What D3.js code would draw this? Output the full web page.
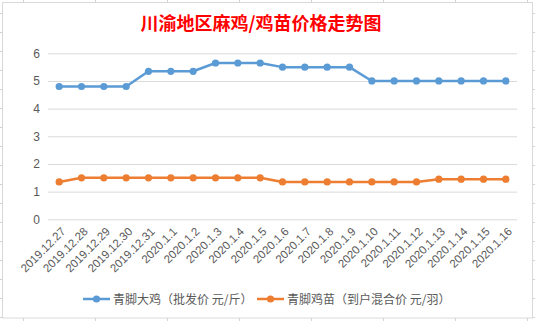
<!DOCTYPE html>
<html><head><meta charset="utf-8">
<script src="https://cdn.jsdelivr.net/npm/d3@7"></script>
<style>body{margin:0;background:#fff;}svg{display:block;}</style>
</head><body>
<script>
const categories = ["2019.12.27","2019.12.28","2019.12.29","2019.12.30","2019.12.31","2020.1.1","2020.1.2","2020.1.3","2020.1.4","2020.1.5","2020.1.6","2020.1.7","2020.1.8","2020.1.9","2020.1.10","2020.1.11","2020.1.12","2020.1.13","2020.1.14","2020.1.15","2020.1.16"];
const chickenPrice = [4.8,4.8,4.8,4.8,5.35,5.35,5.35,5.65,5.65,5.65,5.5,5.5,5.5,5.5,5.0,5.0,5.0,5.0,5.0,5.0,5.0];
const chickPrice = [1.35,1.5,1.5,1.5,1.5,1.5,1.5,1.5,1.5,1.5,1.35,1.35,1.35,1.35,1.35,1.35,1.35,1.45,1.45,1.45,1.45];
const seriesNames = ["青脚大鸡（批发价 元/斤）","青脚鸡苗（到户混合价 元/羽）"];
const yTicks = [0,1,2,3,4,5,6];
const title = "川渝地区麻鸡/鸡苗价格走势图";

const W = 535, H = 321;
const svg = d3.select("body").append("svg").attr("width", W).attr("height", H);
const font = "'Liberation Sans','Noto Sans CJK SC',sans-serif";
const cjk = "'Noto Sans CJK SC',sans-serif";

// spreadsheet cell grid peeking around the chart
const cellG = svg.append("g").attr("stroke", "#d4d4d4").attr("stroke-width", 1);
for (let x = 23.5; x < W; x += 72) {
  cellG.append("line").attr("x1", x).attr("x2", x).attr("y1", 0).attr("y2", 3);
  cellG.append("line").attr("x1", x).attr("x2", x).attr("y1", 318).attr("y2", H);
}
for (let y = 13.5; y < H; y += 19) {
  cellG.append("line").attr("x1", 0).attr("x2", 3).attr("y1", y).attr("y2", y);
  cellG.append("line").attr("x1", 532).attr("x2", W).attr("y1", y).attr("y2", y);
}
// chart frame
svg.append("rect").attr("x", 2.5).attr("y", 2.5).attr("width", 530).attr("height", 315.5)
  .attr("fill", "#fff").attr("stroke", "#d9d9d9").attr("stroke-width", 1);

// title
svg.append("text").attr("x", 261).attr("y", 30).attr("text-anchor", "middle")
  .attr("font-family", cjk).attr("font-size", 18).attr("font-weight", "bold")
  .attr("fill", "#ff0000").text(title);

const x = d3.scaleBand().domain(categories).range([48, 517]);
const y = d3.scaleLinear().domain([0, 6]).range([219.3, 53.3]);

// gridlines
const yAxis = d3.axisLeft(y).tickValues(yTicks).tickFormat(d3.format("d")).tickSize(-(517 - 48)).tickPadding(8);
const gy = svg.append("g").attr("transform", "translate(48,0)").call(yAxis);
gy.select(".domain").remove();
gy.selectAll(".tick line").attr("stroke", "#d9d9d9").attr("stroke-width", 1);
gy.selectAll(".tick text").attr("font-family", font).attr("font-size", 12).attr("fill", "#595959");

// x labels
const xAxis = d3.axisBottom(x).tickSize(0).tickPadding(0);
const gx = svg.append("g").attr("transform", "translate(0,219.3)").call(xAxis);
gx.select(".domain").remove();
gx.selectAll(".tick text")
  .attr("font-family", font).attr("font-size", 11.5).attr("fill", "#595959")
  .attr("text-anchor", "end").attr("dy", null).attr("y", 0)
  .attr("transform", "translate(7,13) rotate(-45)");

const cx = d => x(d) + x.bandwidth() / 2;
const seriesData = [chickenPrice, chickPrice];
const colors = ["#5b9bd5", "#ed7d31"];
seriesData.forEach((vals, i) => {
  const pts = vals.map((v, j) => [cx(categories[j]), y(v)]);
  svg.append("path").attr("d", d3.line()(pts)).attr("fill", "none")
    .attr("stroke", colors[i]).attr("stroke-width", 2.5).attr("stroke-linejoin", "round");
  svg.append("g").selectAll("circle").data(pts).join("circle")
    .attr("cx", d => d[0]).attr("cy", d => d[1]).attr("r", 3.6).attr("fill", colors[i]);
});

// legend
const legX = [83, 257];
seriesNames.forEach((name, i) => {
  const g = svg.append("g").attr("transform", `translate(${legX[i]},299)`);
  g.append("line").attr("x1", 0).attr("x2", 27).attr("stroke", colors[i]).attr("stroke-width", 2.5);
  g.append("circle").attr("cx", 13.5).attr("r", 3.6).attr("fill", colors[i]);
  g.append("text").attr("x", 30).attr("y", 4.5).attr("font-family", cjk).attr("font-size", 12)
    .attr("fill", "#595959").text(name);
});
</script>
</body></html>
